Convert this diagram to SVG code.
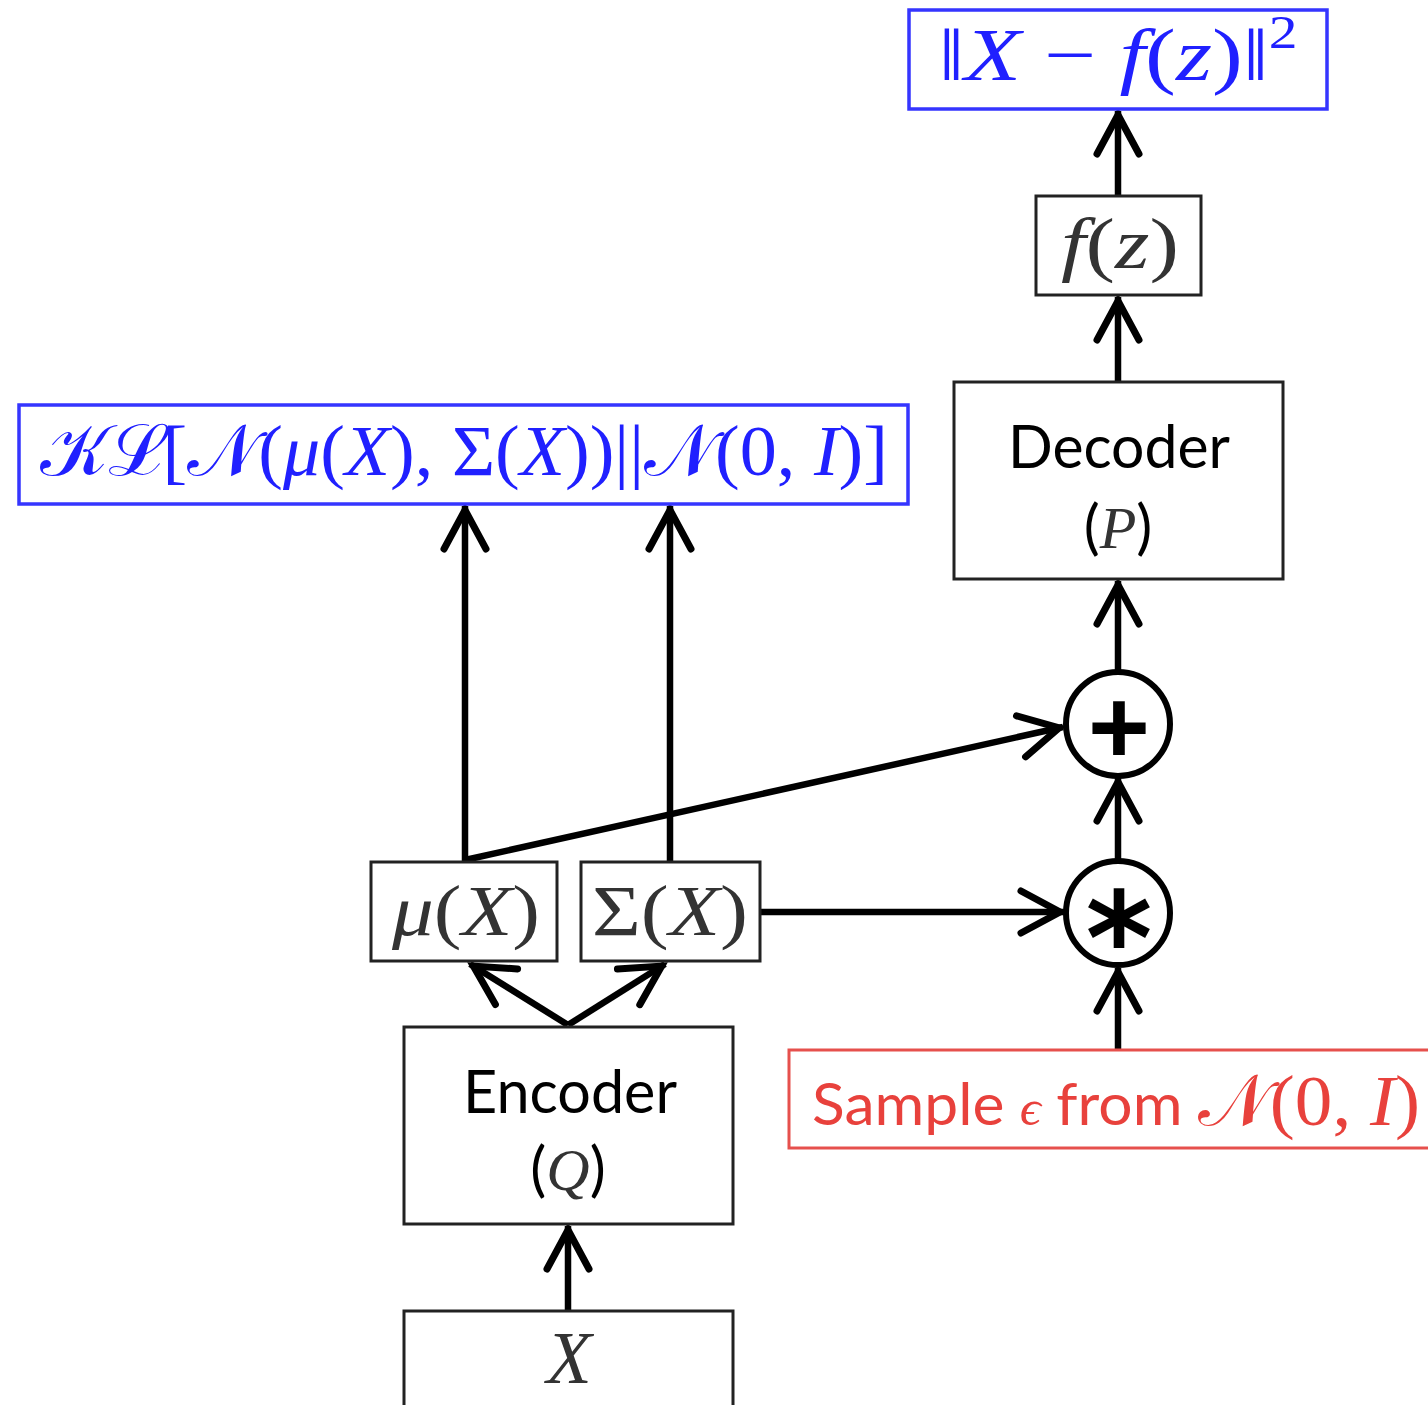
<svg xmlns="http://www.w3.org/2000/svg" width="1428" height="1405" viewBox="0 0 1428 1405">
<style>
.box{fill:#fff;stroke:#222;stroke-width:3}
.bbox{fill:#fff;stroke:#3535ff;stroke-width:3.5}
.rbox{fill:#fff;stroke:#e6504d;stroke-width:3}
.circ{fill:#fff;stroke:#000;stroke-width:6}
.math{font-family:"Liberation Serif","DejaVu Serif",serif;fill:#333}
.sans{font-family:Lato,"Open Sans","Liberation Sans",sans-serif;fill:#000}
.blue{fill:#2020ff}
.red{fill:#e8413c}
.it{font-style:italic}
.conn{stroke:#000;stroke-width:6.5;fill:none;marker-end:url(#ah)}
</style>
<defs>
<marker id="ah" viewBox="-60 -30 70 60" markerWidth="70" markerHeight="60" refX="0" refY="0" markerUnits="userSpaceOnUse" orient="auto">
<path d="M-43,-21 L-4,0 L-43,21" fill="none" stroke="#000" stroke-width="7" stroke-linecap="round" stroke-linejoin="miter"/>
</marker>
</defs>
<rect width="1428" height="1405" fill="#fff"/>

<g id="connectors">
<path class="conn" d="M1118,196 L1118,111"/>
<path class="conn" d="M1118,382 L1118,297"/>
<path class="conn" d="M1118,671 L1118,581"/>
<path class="conn" d="M1118,859 L1118,778"/>
<path class="conn" d="M1118,1050 L1118,968"/>
<path class="conn" d="M465,860 L1063,727"/>
<path class="conn" d="M760,912 L1064,912"/>
<path class="conn" d="M465,862 L465,506"/>
<path class="conn" d="M670,862 L670,506"/>
<path class="conn" d="M568,1025 L470,964"/>
<path class="conn" d="M568,1025 L665,964"/>
<path class="conn" d="M568,1311 L568,1226"/>
</g>

<g id="recon-loss">
<rect class="bbox" x="909" y="10" width="418" height="99"/>
<text class="math blue" x="1118" y="80" font-size="74" text-anchor="middle" textLength="359" lengthAdjust="spacingAndGlyphs">‖<tspan class="it">X</tspan> − <tspan class="it">f</tspan>(<tspan class="it">z</tspan>)‖<tspan font-size="46" dy="-32">2</tspan></text>
</g>

<g id="fz">
<rect class="box" x="1036" y="196" width="165" height="99"/>
<text class="math" x="1120" y="268" font-size="72" text-anchor="middle" textLength="118" lengthAdjust="spacingAndGlyphs"><tspan class="it">f</tspan>(<tspan class="it">z</tspan>)</text>
</g>

<g id="decoder">
<rect class="box" x="954" y="382" width="329" height="197"/>
<text class="sans" x="1119" y="468" font-size="60" text-anchor="middle" textLength="222" lengthAdjust="spacingAndGlyphs">Decoder</text>
<text class="sans" x="1118" y="548" font-size="60" text-anchor="middle">(<tspan class="math it" fill="#333">P</tspan>)</text>
</g>

<g id="kl">
<rect class="bbox" x="19" y="405" width="889" height="99"/>
<text class="math blue" x="40" y="475" font-size="72" textLength="848" lengthAdjust="spacingAndGlyphs">𝒦ℒ[𝒩(<tspan class="it">μ</tspan>(<tspan class="it">X</tspan>), Σ(<tspan class="it">X</tspan>))||𝒩(0, <tspan class="it">I</tspan>)]</text>
</g>

<g id="plus">
<circle class="circ" cx="1118" cy="724" r="52"/>
<text x="1119" y="763" font-family="'Liberation Sans',Arial,sans-serif" font-weight="bold" font-size="106" text-anchor="middle">+</text>
</g>

<g id="mult">
<circle class="circ" cx="1118" cy="913" r="52"/>
<text x="1119" y="984" font-family="'DejaVu Sans',sans-serif" font-weight="bold" font-size="128" text-anchor="middle">*</text>
</g>

<g id="mu">
<rect class="box" x="371" y="862" width="186" height="99"/>
<text class="math" x="466" y="935" font-size="72" text-anchor="middle" textLength="148" lengthAdjust="spacingAndGlyphs"><tspan class="it">μ</tspan>(<tspan class="it">X</tspan>)</text>
</g>

<g id="sigma">
<rect class="box" x="581" y="862" width="179" height="99"/>
<text class="math" x="670" y="935" font-size="72" text-anchor="middle" textLength="156" lengthAdjust="spacingAndGlyphs">Σ(<tspan class="it">X</tspan>)</text>
</g>

<g id="sample">
<rect class="rbox" x="789" y="1050" width="660" height="98"/>
<text class="sans red" x="812" y="1125" font-size="58" textLength="608" lengthAdjust="spacingAndGlyphs">Sample <tspan class="math it red" font-size="50">ϵ</tspan> from <tspan class="math red" font-size="72">𝒩(0, <tspan class="it">I</tspan>)</tspan></text>
</g>

<g id="encoder">
<rect class="box" x="404" y="1027" width="329" height="197"/>
<text class="sans" x="570" y="1113" font-size="60" text-anchor="middle" textLength="214" lengthAdjust="spacingAndGlyphs">Encoder</text>
<text class="sans" x="568" y="1190" font-size="60" text-anchor="middle">(<tspan class="math it" fill="#333">Q</tspan>)</text>
</g>

<g id="x-input">
<rect class="box" x="404" y="1311" width="329" height="110"/>
<text class="math it" x="569" y="1383" font-size="74" text-anchor="middle">X</text>
</g>
</svg>
